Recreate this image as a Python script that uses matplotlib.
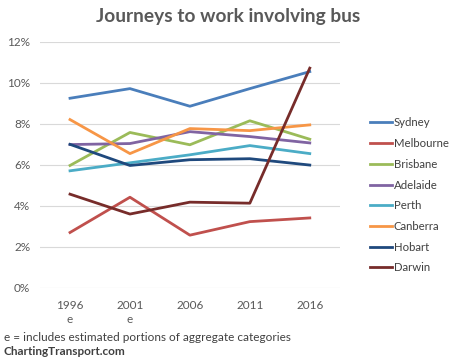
import matplotlib
matplotlib.use('Agg')
import matplotlib.pyplot as plt

plt.rcParams['font.family'] = ['Lato', 'DejaVu Sans']

years = ['1996\ne', '2001\ne', '2006', '2011', '2016']
cities = ['Sydney', 'Melbourne', 'Brisbane', 'Adelaide', 'Perth', 'Canberra', 'Hobart', 'Darwin']
sydney = [9.25, 9.72, 8.86, 9.72, 10.55]
melbourne = [2.70, 4.42, 2.57, 3.23, 3.41]
brisbane = [5.97, 7.58, 6.98, 8.15, 7.25]
adelaide = [6.99, 7.04, 7.62, 7.38, 7.07]
perth = [5.71, 6.10, 6.49, 6.94, 6.55]
canberra = [8.21, 6.55, 7.77, 7.67, 7.95]
hobart = [7.00, 5.97, 6.25, 6.30, 5.99]
darwin = [4.57, 3.60, 4.18, 4.13, 10.72]
colors = ['#4A7EBB', '#C0504D', '#9BBB59', '#8064A2', '#4BACC6', '#F79646', '#1F497D', '#772C2A']

series = [sydney, melbourne, brisbane, adelaide, perth, canberra, hobart, darwin]

fig = plt.figure(figsize=(4.5, 3.58), dpi=100)
ax = fig.add_axes([0.089, 0.196, 0.666, 0.687])

x = range(len(years))
for name, vals, c in zip(cities, series, colors):
    ax.plot(x, vals, color=c, lw=2, label=name)

ax.set_xlim(-0.5, 4.5)
ax.set_ylim(0, 12)
ax.set_yticks(range(0, 13, 2))
ax.set_yticklabels([f'{v}%' for v in range(0, 13, 2)])
ax.set_xticks(list(x))
ax.set_xticklabels(years, va='top', linespacing=1.35)
ax.grid(axis='y', color='#D9D9D9', lw=0.8)
ax.set_axisbelow(True)
for s in ax.spines.values():
    s.set_visible(False)
ax.tick_params(length=0, labelsize=8.5, colors='#595959', pad=9)
ax.tick_params(axis='y', pad=7)

fig.text(0.508, 0.955, 'Journeys to work involving bus', ha='center', va='center',
         fontsize=13.8, fontweight='bold', color='#595959')

leg = ax.legend(loc='center left', bbox_to_anchor=(1.1, 0.376), frameon=False,
                fontsize=8.2, handlelength=2.0, handletextpad=0.1, labelspacing=0.85,
                borderaxespad=0, borderpad=0)
for t in leg.get_texts():
    t.set_color('#404040')

fig.text(0.008, 0.058, 'e = includes estimated portions of aggregate categories',
         fontsize=8.5, color='#404040', va='center')
fig.text(0.008, 0.018, 'ChartingTransport.com', fontsize=8.5, fontweight='bold',
         color='#404040', va='center')

fig.savefig('out.png', dpi=100)
